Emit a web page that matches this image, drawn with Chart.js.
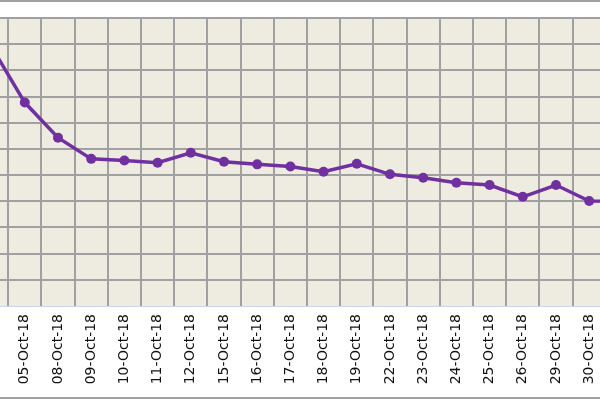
<!DOCTYPE html>
<html>
<head>
<meta charset="utf-8">
<script src="https://cdn.jsdelivr.net/npm/chart.js@4"></script>
<style>
    body { margin: 0; background: #fff; }
    #wrap { position: relative; width: 600px; height: 400px; overflow: hidden; background: #fff; }
    #chart { position: absolute; top: 0; left: -44.9px; }
    .edge { position: absolute; left: 0; width: 600px; height: 2px; background: #a0a0a0; }
</style>
</head>
<body>
<div id="wrap">
    <canvas id="chart" width="700" height="400"></canvas>
    <div class="edge" style="top:0"></div>
    <div class="edge" style="top:397px"></div>
</div>
<script>
// dates on the x axis (first and last ones sit just outside the crop)
const dates = ["04-Oct-18", "05-Oct-18", "08-Oct-18", "09-Oct-18", "10-Oct-18", "11-Oct-18",
    "12-Oct-18", "15-Oct-18", "16-Oct-18", "17-Oct-18", "18-Oct-18", "19-Oct-18",
    "22-Oct-18", "23-Oct-18", "24-Oct-18", "25-Oct-18", "26-Oct-18", "29-Oct-18",
    "30-Oct-18", "31-Oct-18"];

// values
const values = [9.9, 7.77, 6.43, 5.62, 5.56, 5.47, 5.85, 5.51, 5.41, 5.33,
    5.13, 5.43, 5.03, 4.90, 4.71, 4.62, 4.17, 4.62, 4.01, 4.0];

const yMin = 0;
const yMax = 11;
const yStep = 1;

// beige plot background
const plotBackground = {
    id: 'plotBackground',
    beforeDraw(chart) {
        const { ctx, chartArea: a } = chart;
        ctx.save();
        ctx.fillStyle = '#EEEBE1';
        ctx.fillRect(a.left, a.top, a.right - a.left, a.bottom - a.top);
        ctx.restore();
    }
};

const canvas = document.getElementById('chart');

let chart = new Chart(canvas, {
    type: 'line',
    data: {
        labels: dates,
        datasets: [{
            data: values,
            borderColor: '#7030A0',
            backgroundColor: '#7030A0',
            borderWidth: 3.5,
            pointRadius: 5,
            pointBackgroundColor: '#7030A0',
            pointBorderWidth: 0,
            tension: 0
        }]
    },
    options: {
        responsive: false,
        animation: false,
        layout: { padding: { left: 20, right: 16, top: 18, bottom: 0 } },
        plugins: {
            legend: { display: false },
            tooltip: { enabled: false }
        },
        scales: {
            x: {
                offset: true,
                afterFit: s => { s.height = 94; },
                grid: { offset: true, color: '#a0a0a0', lineWidth: 2, drawTicks: false },
                border: { display: true, color: '#C5D6EE', width: 1 },
                ticks: {
                    autoSkip: false,
                    minRotation: 90,
                    maxRotation: 90,
                    padding: 8,
                    color: '#111',
                    font: { family: 'DejaVu Sans', size: 14 }
                }
            },
            y: {
                min: yMin,
                max: yMax,
                afterFit: s => { s.width = 0; },
                grid: {
                    color: c => c.tick.value === 0 ? 'rgba(0,0,0,0)' : '#a0a0a0',
                    lineWidth: 2,
                    drawTicks: false
                },
                border: { display: false },
                ticks: { stepSize: yStep, display: false }
            }
        }
    },
    plugins: [plotBackground]
});
</script>
</body>
</html>
